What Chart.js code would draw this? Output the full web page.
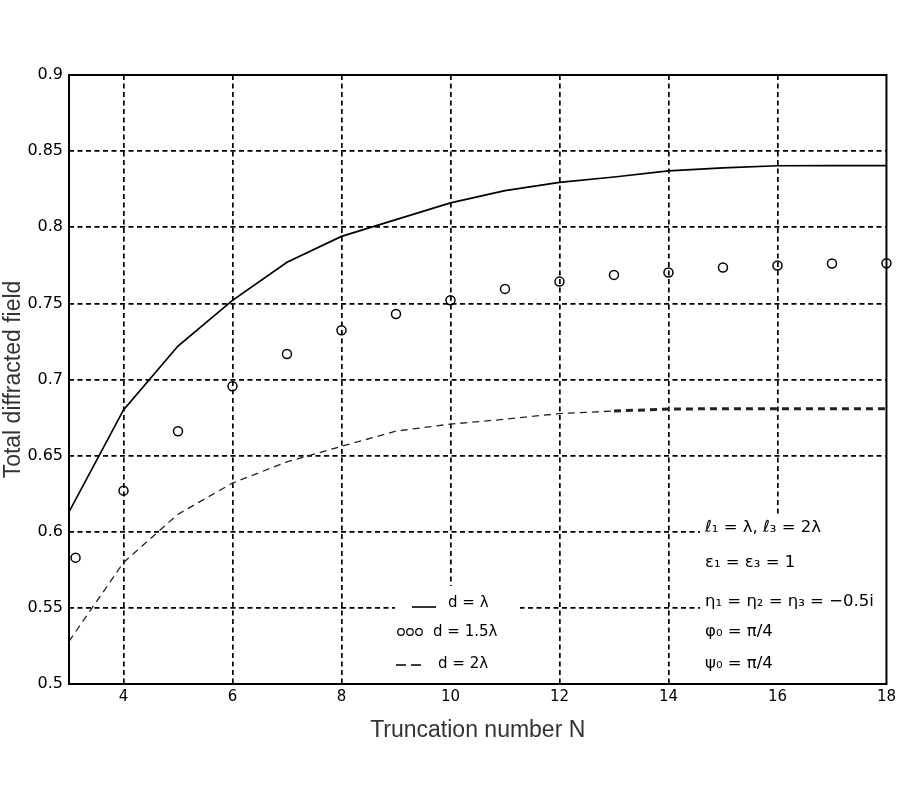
<!DOCTYPE html>
<html>
<head>
<meta charset="utf-8">
<script src="https://cdn.jsdelivr.net/npm/chart.js@4.4.0/dist/chart.umd.min.js"></script>
<style>
  body { margin: 0; background: #fff; }
  #wrap { width: 900px; height: 800px; }
</style>
</head>
<body>
<div id="wrap"><canvas id="fieldChart" width="900" height="800"></canvas></div>
<script>
// Truncation number N (curves) and N where the circles sit
const truncN = [3, 4, 5, 6, 7, 8, 9, 10, 11, 12, 13, 14, 15, 16, 17, 18];
const circleN = [3.12, 4, 5, 6, 7, 8, 9, 10, 11, 12, 13, 14, 15, 16, 17, 18];

// Total diffracted field
const fieldD1 = [0.613, 0.680, 0.722, 0.752, 0.777, 0.794, 0.805, 0.816, 0.824, 0.8295, 0.833, 0.837, 0.839, 0.8404, 0.8405, 0.8405];
const fieldD15 = [0.583, 0.627, 0.666, 0.6956, 0.7168, 0.7323, 0.743, 0.752, 0.7595, 0.7643, 0.7687, 0.7703, 0.7736, 0.7749, 0.7762, 0.7764];
const fieldD2 = [0.528, 0.5798, 0.6115, 0.632, 0.6459, 0.6561, 0.6661, 0.6707, 0.6739, 0.6776, 0.6793, 0.6806, 0.6808, 0.6808, 0.6808, 0.6808];

const seriesLabels = ['d = λ', 'd = 1.5λ', 'd = 2λ'];
const xTicks = [4, 6, 8, 10, 12, 14, 16, 18];
const yTicks = [0.5, 0.55, 0.6, 0.65, 0.7, 0.75, 0.8, 0.85, 0.9];
const paramLines = ['ℓ₁ = λ, ℓ₃ = 2λ', 'ε₁ = ε₃ = 1', 'η₁ = η₂ = η₃ = −0.5i', 'φ₀ = π/4', 'ψ₀ = π/4'];

const textFont = '15px "DejaVu Sans"';
const paramFont = '16.5px "DejaVu Sans"';

// grid lines on the frame edges are left to the frame itself
const gridColor = edges => c => (c.tick && edges.includes(c.tick.value)) ? 'rgba(0,0,0,0)' : '#000';

// white boxes behind legend and parameter text, hiding the grid there
const boxesPlugin = {
    id: 'boxes',
    beforeDatasetsDraw(chart) {
        const ctx = chart.ctx;
        ctx.save();
        ctx.fillStyle = '#fff';
        ctx.fillRect(395, 586, 125, 98);
        ctx.fillRect(700, 514, 186, 170);
        ctx.restore();
    },
    afterDraw(chart) {
        const ctx = chart.ctx;
        const ds = chart.data.datasets;
        const area = chart.chartArea;
        ctx.save();

        // legend
        ctx.font = textFont;
        ctx.fillStyle = '#000';
        ctx.textBaseline = 'middle';
        // row 1: solid line
        ctx.strokeStyle = ds[0].borderColor;
        ctx.lineWidth = 1.6;
        ctx.beginPath();
        ctx.moveTo(412, 607);
        ctx.lineTo(436, 607);
        ctx.stroke();
        ctx.fillText(ds[0].label, 448, 603);
        // row 2: circles
        ctx.lineWidth = 1.2;
        [401, 410, 419].forEach(x => {
            ctx.beginPath();
            ctx.arc(x, 632, 3.3, 0, Math.PI * 2);
            ctx.stroke();
        });
        ctx.fillText(ds[1].label, 433, 632);
        // row 3: dashes
        ctx.lineWidth = 1.4;
        ctx.beginPath();
        ctx.moveTo(396, 665); ctx.lineTo(406, 665);
        ctx.moveTo(411, 665); ctx.lineTo(421, 665);
        ctx.stroke();
        ctx.fillText(ds[2].label, 438, 664);

        // parameters
        ctx.font = paramFont;
        const rowsY = [528, 563, 602, 632, 664];
        paramLines.forEach((t, i) => ctx.fillText(t, 705, rowsY[i]));

        // frame
        ctx.strokeStyle = '#000';
        ctx.lineWidth = 2;
        ctx.strokeRect(area.left, area.top, area.right - area.left, area.bottom - area.top);
        ctx.restore();
    }
};

const ctx = document.getElementById('fieldChart').getContext('2d');
const fieldChart = new Chart(ctx, {
    type: 'line',
    data: {
        datasets: [
            {
                label: seriesLabels[0],
                data: truncN.map((n, i) => ({ x: n, y: fieldD1[i] })),
                borderColor: '#000',
                borderWidth: 1.7,
                pointRadius: 0
            },
            {
                label: seriesLabels[1],
                data: circleN.map((n, i) => ({ x: n, y: fieldD15[i] })),
                showLine: false,
                borderColor: '#000',
                pointStyle: 'circle',
                pointRadius: 4.5,
                pointBorderWidth: 1.5,
                pointBackgroundColor: 'rgba(255,255,255,0)',
                clip: false
            },
            {
                label: seriesLabels[2],
                data: truncN.map((n, i) => ({ x: n, y: fieldD2[i] })),
                borderColor: '#222',
                borderWidth: 1.3,
                borderDash: [7, 5],
                pointRadius: 0,
                segment: {
                    borderWidth: c => c.p0.parsed.x >= 13 ? 3 : 1.3
                }
            }
        ]
    },
    options: {
        responsive: false,
        animation: false,
        layout: { padding: { top: 75, right: 13, bottom: 52, left: 0 } },
        plugins: {
            legend: { display: false },
            tooltip: { enabled: false }
        },
        scales: {
            x: {
                type: 'linear',
                min: 3,
                max: 18,
                afterBuildTicks: s => { s.ticks = xTicks.map(v => ({ value: v })); },
                afterFit: s => { s.height = 64; },
                grid: { color: gridColor([18]), lineWidth: 1.7, drawTicks: false },
                border: { display: false, dash: [5, 3.5] },
                ticks: { font: { family: 'DejaVu Sans', size: 15 }, color: '#000', padding: 4, maxRotation: 0 },
                title: {
                    display: true,
                    text: 'Truncation number N',
                    color: '#333',
                    font: { family: 'Liberation Sans', size: 23 },
                    padding: { top: 4, bottom: 4 }
                }
            },
            y: {
                min: 0.5,
                max: 0.9,
                afterBuildTicks: s => { s.ticks = yTicks.map(v => ({ value: v })); },
                afterFit: s => { s.width = 69; },
                grid: { color: gridColor([0.5, 0.9]), lineWidth: 1.7, drawTicks: false },
                border: { display: false, dash: [5, 3.5] },
                ticks: {
                    font: { family: 'DejaVu Sans', size: 16 },
                    color: '#000',
                    padding: 6,
                    callback: v => String(Number(v.toFixed(2)))
                },
                title: {
                    display: true,
                    text: 'Total diffracted field',
                    color: '#333',
                    font: { family: 'Liberation Sans', size: 23 },
                    padding: { top: 0, bottom: 0 }
                }
            }
        }
    },
    plugins: [boxesPlugin]
});
</script>
</body>
</html>
